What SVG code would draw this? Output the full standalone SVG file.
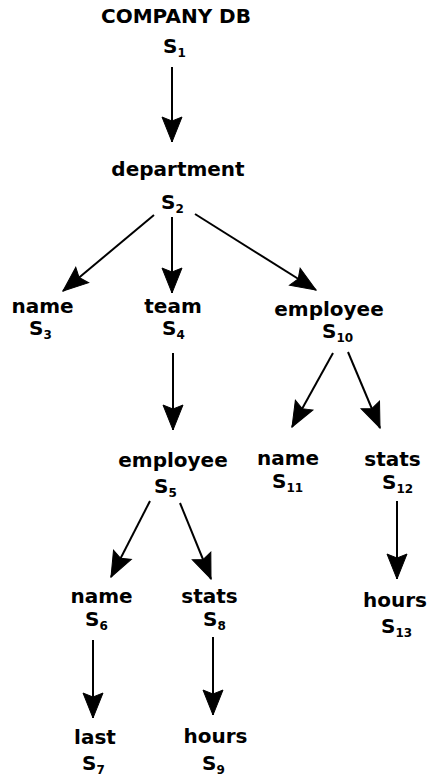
<svg xmlns="http://www.w3.org/2000/svg" width="430" height="776" viewBox="0 0 430 776">
<style>
text{font-family:"DejaVu Sans","Liberation Sans",sans-serif;font-weight:bold;font-size:20px;fill:#000}
.l{text-anchor:middle}
.sub{font-size:12px}
.e{stroke:#000;stroke-width:2;fill:none;marker-end:url(#ah)}
</style>
<defs>
<marker id="ah" viewBox="-27 -12 28 24" refX="0" refY="0" markerWidth="28" markerHeight="24" orient="auto" markerUnits="userSpaceOnUse">
<path d="M0,0 L-25,-10 L-21,0 L-25,10 Z" fill="#000" stroke="#000" stroke-width="1" stroke-linejoin="miter"/>
</marker>
</defs>
<rect width="430" height="776" fill="#fff"/>
<g id="connectors">
<line class="e" x1="172" y1="67" x2="172" y2="142"/>
<line class="e" x1="154" y1="215" x2="63" y2="291"/>
<line class="e" x1="172" y1="217" x2="172" y2="293"/>
<line class="e" x1="195" y1="214" x2="316" y2="290"/>
<line class="e" x1="173" y1="353" x2="173" y2="430"/>
<line class="e" x1="150" y1="501" x2="111" y2="577"/>
<line class="e" x1="180" y1="503" x2="211" y2="579"/>
<line class="e" x1="333" y1="353" x2="292" y2="427"/>
<line class="e" x1="348" y1="352" x2="380" y2="428"/>
<line class="e" x1="397" y1="501" x2="397" y2="579"/>
<line class="e" x1="93" y1="640" x2="93" y2="718"/>
<line class="e" x1="213" y1="637" x2="213" y2="715"/>
</g>
<g id="s1"><text class="l" x="176" y="23">COMPANY DB</text><text x="163" y="53">S<tspan class="sub" dy="4">1</tspan></text></g>
<g id="s2"><text class="l" x="178" y="176">department</text><text x="161" y="209">S<tspan class="sub" dy="4">2</tspan></text></g>
<g id="s3"><text class="l" x="42.5" y="313">name</text><text x="29" y="335">S<tspan class="sub" dy="4">3</tspan></text></g>
<g id="s4"><text class="l" x="173" y="313">team</text><text x="162" y="335">S<tspan class="sub" dy="4">4</tspan></text></g>
<g id="s10"><text class="l" x="329" y="316">employee</text><text x="322" y="338">S<tspan class="sub" dy="4">10</tspan></text></g>
<g id="s5"><text class="l" x="173" y="467">employee</text><text x="154" y="493">S<tspan class="sub" dy="4">5</tspan></text></g>
<g id="s11"><text class="l" x="288" y="465">name</text><text x="272" y="488">S<tspan class="sub" dy="4">11</tspan></text></g>
<g id="s12"><text class="l" x="392.5" y="466">stats</text><text x="382" y="489">S<tspan class="sub" dy="4">12</tspan></text></g>
<g id="s13"><text class="l" x="395" y="607">hours</text><text x="381" y="633">S<tspan class="sub" dy="4">13</tspan></text></g>
<g id="s6"><text class="l" x="101.5" y="603">name</text><text x="85" y="626">S<tspan class="sub" dy="4">6</tspan></text></g>
<g id="s8"><text class="l" x="209.5" y="603">stats</text><text x="203" y="626">S<tspan class="sub" dy="4">8</tspan></text></g>
<g id="s7"><text class="l" x="95" y="744">last</text><text x="82" y="770">S<tspan class="sub" dy="4">7</tspan></text></g>
<g id="s9"><text class="l" x="215.5" y="743">hours</text><text x="202" y="770">S<tspan class="sub" dy="4">9</tspan></text></g>
</svg>
